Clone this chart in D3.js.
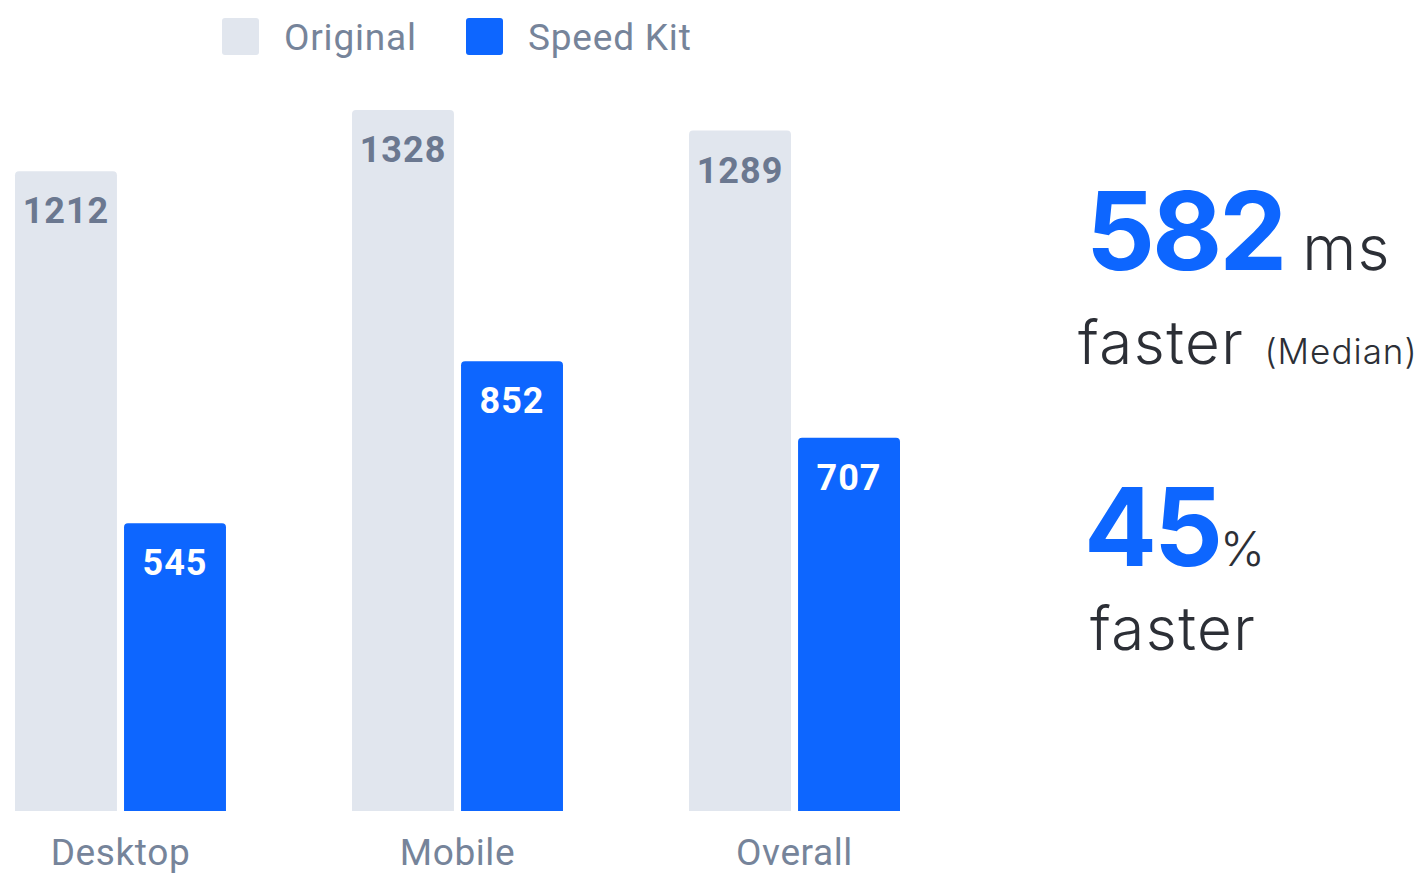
<!DOCTYPE html>
<html>
<head>
<meta charset="utf-8">
<script src="https://cdn.jsdelivr.net/npm/d3@7"></script>
<style>
  html, body { margin: 0; padding: 0; background: #fff; }
  svg { display: block; }
</style>
</head>
<body>
<svg id="chart"></svg>
<script>
// data
const categories = ["Desktop", "Mobile", "Overall"];
const seriesNames = ["Original", "Speed Kit"];
const originalValues = [1212, 1328, 1289];
const speedKitValues = [545, 852, 707];
const fasterMs = "582";
const fasterPct = "45";

const width = 1424, height = 878;
const colors = { "Original": "#e1e6ee", "Speed Kit": "#0d66ff" };
const labelColors = { "Original": "#6b7890", "Speed Kit": "#ffffff" };

const svg = d3.select("#chart")
  .attr("width", width)
  .attr("height", height);

const rows = categories.map((c, i) => ({
  cat: c,
  values: [
    { key: "Original", value: originalValues[i] },
    { key: "Speed Kit", value: speedKitValues[i] }
  ]
}));

const x0 = d3.scaleBand()
  .domain(categories)
  .range([15, 900])
  .paddingInner(0.374)
  .paddingOuter(0);

const x1 = d3.scaleBand()
  .domain(seriesNames)
  .range([0, x0.bandwidth()])
  .paddingInner(0.065);

const y = d3.scaleLinear()
  .domain([0, d3.max(originalValues.concat(speedKitValues))])
  .range([811, 110]);

// bar with rounded top corners only
function topRounded(x, yTop, w, h, r) {
  return "M" + x + "," + (yTop + h) +
    "V" + (yTop + r) +
    "Q" + x + "," + yTop + " " + (x + r) + "," + yTop +
    "H" + (x + w - r) +
    "Q" + (x + w) + "," + yTop + " " + (x + w) + "," + (yTop + r) +
    "V" + (yTop + h) + "Z";
}

const group = svg.append("g")
  .selectAll("g")
  .data(rows)
  .join("g")
  .attr("transform", d => "translate(" + x0(d.cat) + ",0)");

group.selectAll("path")
  .data(d => d.values)
  .join("path")
  .attr("d", d => topRounded(x1(d.key), y(d.value), x1.bandwidth(), y(0) - y(d.value), 4))
  .attr("fill", d => colors[d.key]);

group.selectAll("text.val")
  .data(d => d.values)
  .join("text")
  .attr("class", "val")
  .attr("x", d => x1(d.key) + x1.bandwidth() / 2)
  .attr("y", d => y(d.value) + 52)
  .attr("text-anchor", "middle")
  .attr("font-family", "Roboto, sans-serif")
  .attr("font-weight", 700)
  .attr("font-size", "36px")
  .attr("letter-spacing", "1px")
  .attr("fill", d => labelColors[d.key])
  .text(d => d.value);

// category axis (no line, no ticks)
const xAxis = svg.append("g")
  .attr("transform", "translate(0," + y(0) + ")")
  .call(d3.axisBottom(x0).tickSize(0).tickPadding(54));
xAxis.select(".domain").remove();
xAxis.selectAll("text")
  .attr("font-family", "Roboto, sans-serif")
  .attr("font-size", "37px")
  .attr("letter-spacing", "0.6px")
  .attr("fill", "#76849a")
  .attr("dy", 0);

// legend
const legendX = [222, 466];
const legend = svg.append("g")
  .selectAll("g")
  .data(seriesNames)
  .join("g")
  .attr("transform", (d, i) => "translate(" + legendX[i] + ",18)");
legend.append("rect")
  .attr("width", 37)
  .attr("height", 37)
  .attr("rx", 3)
  .attr("fill", d => colors[d]);
legend.append("text")
  .attr("x", 62)
  .attr("y", 32)
  .attr("font-family", "Roboto, sans-serif")
  .attr("font-size", "37px")
  .attr("letter-spacing", "0.8px")
  .attr("fill", "#76849a")
  .text(d => d);

// right side summary
const side = svg.append("g");
const t1 = side.append("text")
  .attr("x", 1086)
  .attr("y", 270)
  .attr("font-family", "Inter, sans-serif");
t1.append("tspan")
  .attr("font-size", "108px")
  .attr("font-weight", 700)
  .attr("fill", "#0d66ff")
  .attr("letter-spacing", "-3px")
  .text(fasterMs);
t1.append("tspan")
  .attr("dx", 18)
  .attr("font-size", "62px")
  .attr("font-weight", 300)
  .attr("letter-spacing", "1px")
  .attr("fill", "#2c2f36")
  .text("ms");

const t2 = side.append("text")
  .attr("x", 1078)
  .attr("y", 364)
  .attr("font-family", "Inter, sans-serif")
  .attr("font-weight", 300)
  .attr("fill", "#2c2f36");
t2.append("tspan")
  .attr("font-size", "60px")
  .attr("letter-spacing", "1.5px")
  .text("faster");
t2.append("tspan")
  .attr("dx", 20)
  .attr("font-size", "35px")
  .attr("letter-spacing", "1px")
  .text("(Median)");

const t3 = side.append("text")
  .attr("x", 1084)
  .attr("y", 566)
  .attr("font-family", "Inter, sans-serif");
t3.append("tspan")
  .attr("font-size", "108px")
  .attr("font-weight", 700)
  .attr("fill", "#0d66ff")
  .attr("letter-spacing", "-3px")
  .text(fasterPct);
t3.append("tspan")
  .attr("dx", 0)
  .attr("font-size", "48px")
  .attr("font-weight", 300)
  .attr("fill", "#2c2f36")
  .text("%");

side.append("text")
  .attr("x", 1090)
  .attr("y", 650)
  .attr("font-family", "Inter, sans-serif")
  .attr("font-weight", 300)
  .attr("font-size", "60px")
  .attr("letter-spacing", "1.5px")
  .attr("fill", "#2c2f36")
  .text("faster");
</script>
</body>
</html>
